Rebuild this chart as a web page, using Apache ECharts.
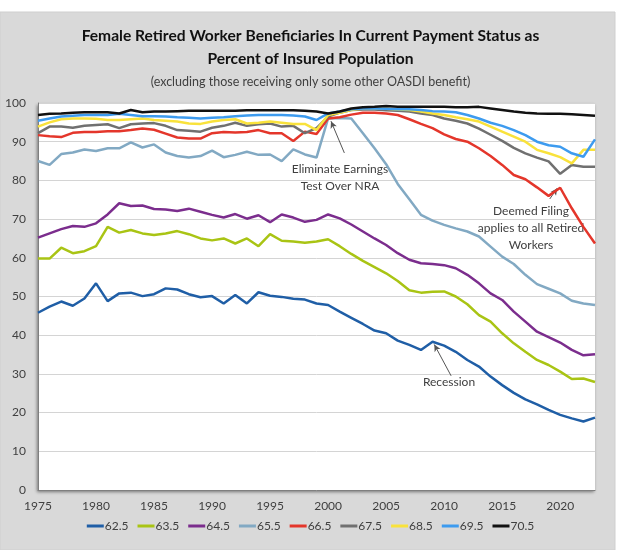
<!DOCTYPE html>
<html>
<head>
<meta charset="utf-8">
<script src="https://cdn.jsdelivr.net/npm/echarts@6/dist/echarts.min.js"></script>
<style>
 html,body{margin:0;padding:0;background:#fff;}
 #chart{width:621px;height:550px;}
</style>
</head>
<body>
<div id="chart"></div>
<script>
var years = [];
for(var y=1975;y<=2023;y++){ years.push(y); }

var xTicks = [1975,1980,1985,1990,1995,2000,2005,2010,2015,2020];
var yTicks = [0,10,20,30,40,50,60,70,80,90,100];

var names = ["62.5","63.5","64.5","65.5","66.5","67.5","68.5","69.5","70.5"];
var colors = ["#1f5ea6","#a9c414","#7b2d8d","#82a9c3","#e4362b","#707070","#f9e23b","#3d9bef","#111111"];

var s625 = [45.8,47.4,48.7,47.6,49.5,53.4,48.8,50.8,51.0,50.1,50.6,52.1,51.8,50.6,49.8,50.1,48.2,50.4,48.2,51.1,50.2,49.9,49.4,49.2,48.2,
 47.8,46.1,44.5,42.9,41.2,40.5,38.6,37.5,36.2,38.3,37.3,35.7,33.6,31.9,29.3,27.1,25.1,23.4,22.1,20.7,19.4,18.5,17.7,18.7];
var s635 = [59.8,59.8,62.6,61.2,61.7,63.0,68.0,66.5,67.2,66.3,65.9,66.3,66.9,66.1,65.0,64.5,65.0,63.7,65.0,63.0,66.1,64.4,64.2,63.9,64.2,
 64.8,63.0,61.0,59.2,57.6,56.0,54.0,51.6,51.0,51.2,51.3,50.0,48.0,45.2,43.5,40.5,37.9,35.7,33.6,32.3,30.6,28.7,28.8,27.9];
var s645 = [65.2,66.3,67.4,68.2,68.0,68.9,71.2,74.1,73.4,73.5,72.6,72.5,72.1,72.7,71.9,71.1,70.4,71.3,70.1,71.0,69.2,71.2,70.4,69.3,69.8,
 71.2,70.2,68.6,66.8,65.0,63.3,61.2,59.5,58.6,58.4,58.1,57.3,55.6,53.4,50.8,49.1,46.1,43.5,40.9,39.5,38.1,36.2,34.8,35.1];
var s655 = [85.0,84.0,86.8,87.2,88.0,87.6,88.3,88.3,89.8,88.5,89.3,87.2,86.3,85.9,86.3,87.7,86.0,86.6,87.4,86.6,86.7,85.0,88.0,86.7,85.9,
 96.0,96.1,96.0,92.2,88.3,84.2,79.1,75.1,71.1,69.6,68.5,67.6,66.8,65.5,62.9,60.3,58.4,55.6,53.2,52.0,50.8,48.9,48.2,47.8];
var s665 = [91.7,91.4,91.2,92.3,92.5,92.5,92.7,92.7,93.0,93.4,93.1,92.1,91.1,90.8,90.8,92.2,92.5,92.4,92.5,93.0,92.2,92.2,90.2,92.6,92.0,
 96.0,96.3,97.0,97.5,97.5,97.3,96.9,95.8,94.6,93.5,91.9,90.7,90.0,88.3,86.3,84.0,81.4,80.3,78.2,76.0,78.1,72.8,68.0,63.7];
var s675 = [92.2,93.9,93.9,93.6,94.1,94.3,94.5,93.5,94.5,94.7,94.8,94.1,93.0,92.8,92.6,93.6,94.1,94.9,94.1,94.5,94.7,93.9,94.1,92.2,93.5,
 96.5,97.5,98.2,98.3,98.3,98.1,98.0,97.8,97.3,96.9,96.0,95.4,94.7,93.4,91.8,90.2,88.4,87.0,85.9,84.9,81.7,84.0,83.5,83.5];
var s685 = [93.9,95.0,95.8,96.0,96.0,95.9,95.6,95.6,95.8,96.0,95.6,95.4,95.2,94.7,94.6,95.2,95.6,95.8,94.7,94.9,95.2,94.9,94.6,94.6,93.0,
 96.9,97.5,98.2,98.6,98.6,98.5,98.3,98.2,97.8,97.3,96.9,96.3,95.8,95.2,93.9,92.6,91.3,90.0,87.9,87.0,86.0,84.4,87.9,87.9];
var s695 = [95.4,96.0,96.5,96.7,96.9,96.9,96.9,97.2,96.9,96.6,96.6,96.5,96.3,96.2,96.0,96.2,96.3,96.6,96.8,96.9,96.9,96.9,96.8,96.5,95.6,
 97.3,97.8,98.4,98.6,98.6,98.5,98.4,98.4,98.2,97.9,97.8,97.6,96.9,96.0,94.9,94.1,93.0,91.7,90.0,89.1,88.7,87.0,86.1,90.6];
var s705 = [96.9,97.2,97.3,97.5,97.6,97.6,97.6,97.3,98.2,97.6,97.8,97.8,97.9,98.0,98.0,98.0,98.0,98.0,98.1,98.1,98.1,98.1,98.1,98.0,97.8,
 97.3,97.8,98.6,98.9,99.0,99.2,99.0,99.0,99.0,99.0,99.0,98.9,98.9,99.0,98.6,98.2,97.8,97.5,97.3,97.2,97.2,97.1,96.9,96.7];

var allData = [s625,s635,s645,s655,s665,s675,s685,s695,s705];

// annotation arrows, [year,value] start -> end
var arrows = [
 [[2001.4,87.1],[2000.25,95.3]],
 [[2019.1,75.2],[2019.75,78.0]],
 [[2010.6,29.5],[2009.15,37.6]]
];

var font = "Lato, 'Open Sans', sans-serif";
var txt = "#404040";

var series = [];
allData.forEach(function(arr,index){
 var s = {
   name: names[index],
   type: "line",
   showSymbol:false,
   symbol:"none",
   data: years.map(function(yr,i){ return [yr,arr[i]]; }),
   lineStyle:{width:2.5,color:colors[index]},
   itemStyle:{color:colors[index]},
   z: 2+index
 };
 series.push(s);
});

series[series.length-1].markLine = {
 silent:true,
 symbol:["none","arrow"],
 symbolSize:[5,7],
 label:{show:false},
 lineStyle:{color:"#555",width:1,type:"solid"},
 data: arrows.map(function(a){ return [{coord:a[0]},{coord:a[1]}]; })
};

var chart = echarts.init(document.getElementById("chart"));

var option = {
 animation:false,
 textStyle:{fontFamily:font},
 title:{
  text:"Female Retired Worker Beneficiaries In Current Payment Status as\nPercent of Insured Population",
  subtext:"(excluding those receiving only some other OASDI benefit)",
  left:"center", top:19, itemGap:5,
  textStyle:{fontFamily:font,fontSize:15.6,fontWeight:"bold",color:"#111",lineHeight:23},
  subtextStyle:{fontFamily:font,fontSize:12.5,color:txt}
 },
 grid:{left:38,right:26,top:103,bottom:60,show:true,backgroundColor:"#fff",borderWidth:0,
  shadowColor:"rgba(0,0,0,0.45)",shadowBlur:3,shadowOffsetX:-1,shadowOffsetY:2},
 legend:{
  bottom:13, left:"center", icon:"rect", itemWidth:17, itemHeight:3, itemGap:9,
  textStyle:{fontFamily:font,fontSize:12,color:txt,padding:[0,0,0,-4]},
  data:names
 },
 xAxis:{type:"value",min:1975,max:2023,interval:5,
  axisLine:{show:true,lineStyle:{color:"#7f7f7f",width:1}},
  axisTick:{show:false},
  splitLine:{show:false},
  axisLabel:{color:txt,fontSize:12,margin:10,showMaxLabel:false,
   formatter:function(v){ return xTicks.indexOf(v)>=0?String(v):""; }}
 },
 yAxis:{type:"value",min:0,max:100,interval:10,
  axisLine:{show:true,lineStyle:{color:"#7f7f7f",width:1}},
  axisTick:{show:false},
  splitLine:{show:true,lineStyle:{color:"#d4d4d4",width:1}},
  axisLabel:{color:txt,fontSize:12,margin:12,
   formatter:function(v){ return yTicks.indexOf(v)>=0?String(v):""; }}
 },
 graphic:[
  {type:"rect",z:-100,shape:{x:0,y:12,width:615,height:538},style:{fill:"#d9d9d9",stroke:"#cfcfcf"}},
  {type:"text",x:340,y:161,style:{text:"Eliminate Earnings\nTest Over NRA",align:"center",fill:txt,font:"12px "+font,lineHeight:17}},
  {type:"text",x:531,y:203,style:{text:"Deemed Filing\napplies to all Retired\nWorkers",align:"center",fill:txt,font:"12px "+font,lineHeight:17}},
  {type:"text",x:449,y:376,style:{text:"Recession",align:"center",fill:txt,font:"12px "+font}}
 ],
 series:series
};
chart.setOption(option);
</script>
</body>
</html>
